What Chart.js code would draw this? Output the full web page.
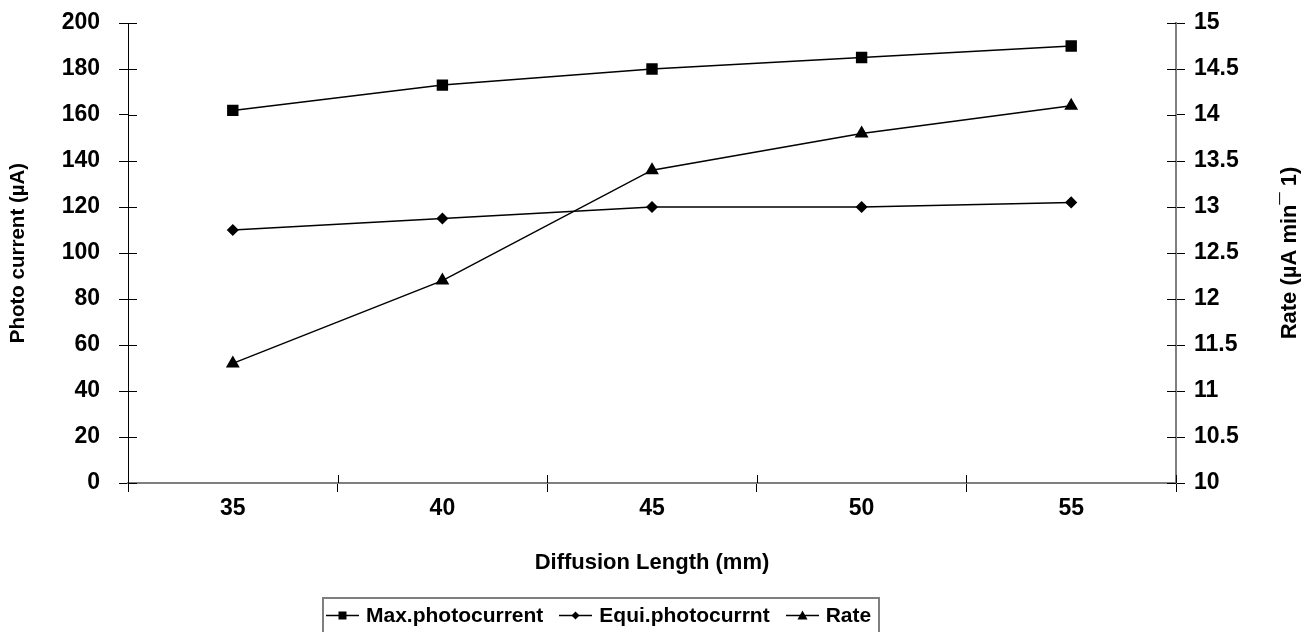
<!DOCTYPE html>
<html>
<head>
<meta charset="utf-8">
<title>Photo current vs diffusion length</title>
<script src="https://cdn.jsdelivr.net/npm/chart.js@4/dist/chart.umd.min.js"></script>
<style>
  body { margin: 0; background: #fff; }
  #wrap { position: relative; width: 1303px; height: 632px; overflow: hidden; }
  #legend {
    position: absolute; left: 322px; top: 597px; width: 558px; height: 60px;
    border: 2px solid #7f7f7f; box-sizing: border-box;
    display: flex; align-items: flex-start; padding: 3px 0 0 2px; gap: 16px;
    font: bold 21px "Liberation Sans", Arial, sans-serif; color: #000;
  }
  #legend .item { display: flex; align-items: center; line-height: 25px; }
  #legend canvas { margin-right: 7px; }
</style>
</head>
<body>
<div id="wrap">
  <canvas id="chart" width="1303" height="632"></canvas>
  <div id="legend"></div>
</div>
<script>
const categories = ['35', '40', '45', '50', '55'];
const maxPhotocurrent = [162, 173, 180, 185, 190];
const equiPhotocurrent = [110, 115, 120, 120, 122];
const rateValues = [11.3, 12.2, 13.4, 13.8, 14.1];

const seriesLabels = ['Max.photocurrent', 'Equi.photocurrnt', 'Rate'];
const xTitle = 'Diffusion Length (mm)';
const leftTitle = 'Photo current (µA)';
const rightTitle = 'Rate (µA min¯ 1)';

const fontFamily = '"Liberation Sans", Arial, sans-serif';

// tick marks in Excel cross the axis line; Chart.js only draws the outside half
const crossTicks = {
    id: 'crossTicks',
    afterDraw(chart) {
        const { ctx, chartArea, scales } = chart;
        ctx.save();
        ctx.strokeStyle = '#000';
        ctx.lineWidth = 1;
        ctx.beginPath();
        scales.y.ticks.forEach((t, i) => {
            const py = Math.round(scales.y.getPixelForTick(i)) + 0.5;
            ctx.moveTo(chartArea.left, py);
            ctx.lineTo(chartArea.left + 9, py);
        });
        scales.y1.ticks.forEach((t, i) => {
            const py = Math.round(scales.y1.getPixelForTick(i)) + 0.5;
            ctx.moveTo(chartArea.right - 9, py);
            ctx.lineTo(chartArea.right, py);
        });
        for (let i = 0; i <= categories.length; i++) {
            const px = Math.round(scales.x.getPixelForValue(i - 0.5)) + 0.5;
            ctx.moveTo(px, chartArea.bottom - 8);
            ctx.lineTo(px, chartArea.bottom);
        }
        ctx.stroke();

        // right axis title reads bottom to top, like the left one
        ctx.translate(1290, (chartArea.top + chartArea.bottom) / 2);
        ctx.rotate(-Math.PI / 2);
        ctx.fillStyle = '#000';
        ctx.font = 'bold 22px ' + fontFamily;
        ctx.textAlign = 'center';
        ctx.textBaseline = 'middle';
        ctx.fillText(rightTitle, 0, 0);
        ctx.restore();
    }
};

const tickFont = { family: fontFamily, size: 23, weight: 'bold' };
const titleFont = { family: fontFamily, size: 22, weight: 'bold' };

function fitVertical(width) {
    return scale => {
        scale.width = width;
        scale.paddingTop = 0;
        scale.paddingBottom = 0;
    };
}

const ctx = document.getElementById('chart').getContext('2d');
const chart = new Chart(ctx, {
    type: 'line',
    data: {
        labels: categories,
        datasets: [{
            label: seriesLabels[0],
            data: maxPhotocurrent,
            yAxisID: 'y',
            borderColor: '#000',
            backgroundColor: '#000',
            borderWidth: 1.5,
            pointStyle: 'rect',
            pointRadius: 7,
            pointHoverRadius: 7
        }, {
            label: seriesLabels[1],
            data: equiPhotocurrent,
            yAxisID: 'y',
            borderColor: '#000',
            backgroundColor: '#000',
            borderWidth: 1.5,
            pointStyle: 'rectRot',
            pointRadius: 5,
            pointHoverRadius: 5
        }, {
            label: seriesLabels[2],
            data: rateValues,
            yAxisID: 'y1',
            borderColor: '#000',
            backgroundColor: '#000',
            borderWidth: 1.5,
            pointStyle: 'triangle',
            pointRadius: 6.5,
            pointHoverRadius: 6.5
        }]
    },
    options: {
        responsive: false,
        animation: false,
        layout: { padding: { top: 23, bottom: 55, left: 0, right: 0 } },
        plugins: {
            legend: { display: false },
            tooltip: { enabled: false }
        },
        scales: {
            x: {
                type: 'category',
                offset: true,
                grid: { offset: true, drawOnChartArea: false, color: '#000', tickLength: 9 },
                border: { color: '#7f7f7f', width: 2 },
                ticks: { color: '#000', font: tickFont, padding: 3, maxRotation: 0 },
                title: { display: true, text: xTitle, color: '#000', font: titleFont, padding: { top: 0, bottom: 1 } },
                afterFit(scale) { scale.height = 94; }
            },
            y: {
                position: 'left',
                min: 0,
                max: 200,
                ticks: { stepSize: 20, color: '#000', font: tickFont, padding: 19 },
                grid: { drawOnChartArea: false, color: '#000', tickLength: 9 },
                border: { color: '#000', width: 1 },
                title: {
                    display: true, text: leftTitle, color: '#000',
                    font: { family: fontFamily, size: 20.5, weight: 'bold' },
                    padding: { top: 6, bottom: 0 }
                },
                afterFit: fitVertical(128)
            },
            y1: {
                position: 'right',
                min: 10,
                max: 15,
                ticks: {
                    stepSize: 0.5, color: '#000', font: tickFont, padding: 9,
                    callback: v => String(Number(v.toFixed(1)))
                },
                grid: { drawOnChartArea: false, color: '#000', tickLength: 9 },
                border: { color: '#7f7f7f', width: 2 },
                afterFit: fitVertical(127)
            }
        }
    },
    plugins: [crossTicks]
});

// legend: short line with the series marker, then the label
function drawMarker(c, style, x, y) {
    c.beginPath();
    if (style === 'rect') {
        c.rect(x - 4, y - 4, 8, 8);
    } else if (style === 'rectRot') {
        c.moveTo(x, y - 4); c.lineTo(x + 4, y); c.lineTo(x, y + 4); c.lineTo(x - 4, y);
        c.closePath();
    } else {
        c.moveTo(x, y - 5); c.lineTo(x + 5, y + 4); c.lineTo(x - 5, y + 4);
        c.closePath();
    }
    c.fill();
}

const legendEl = document.getElementById('legend');
chart.data.datasets.forEach(ds => {
    const item = document.createElement('div');
    item.className = 'item';
    const mk = document.createElement('canvas');
    mk.width = 33; mk.height = 14;
    const m = mk.getContext('2d');
    m.strokeStyle = '#000'; m.fillStyle = '#000'; m.lineWidth = 1.5;
    m.beginPath(); m.moveTo(0, 7.5); m.lineTo(33, 7.5); m.stroke();
    drawMarker(m, ds.pointStyle, 16.5, 7.5);
    const label = document.createElement('span');
    label.textContent = ds.label;
    item.appendChild(mk);
    item.appendChild(label);
    legendEl.appendChild(item);
});
</script>
</body>
</html>
